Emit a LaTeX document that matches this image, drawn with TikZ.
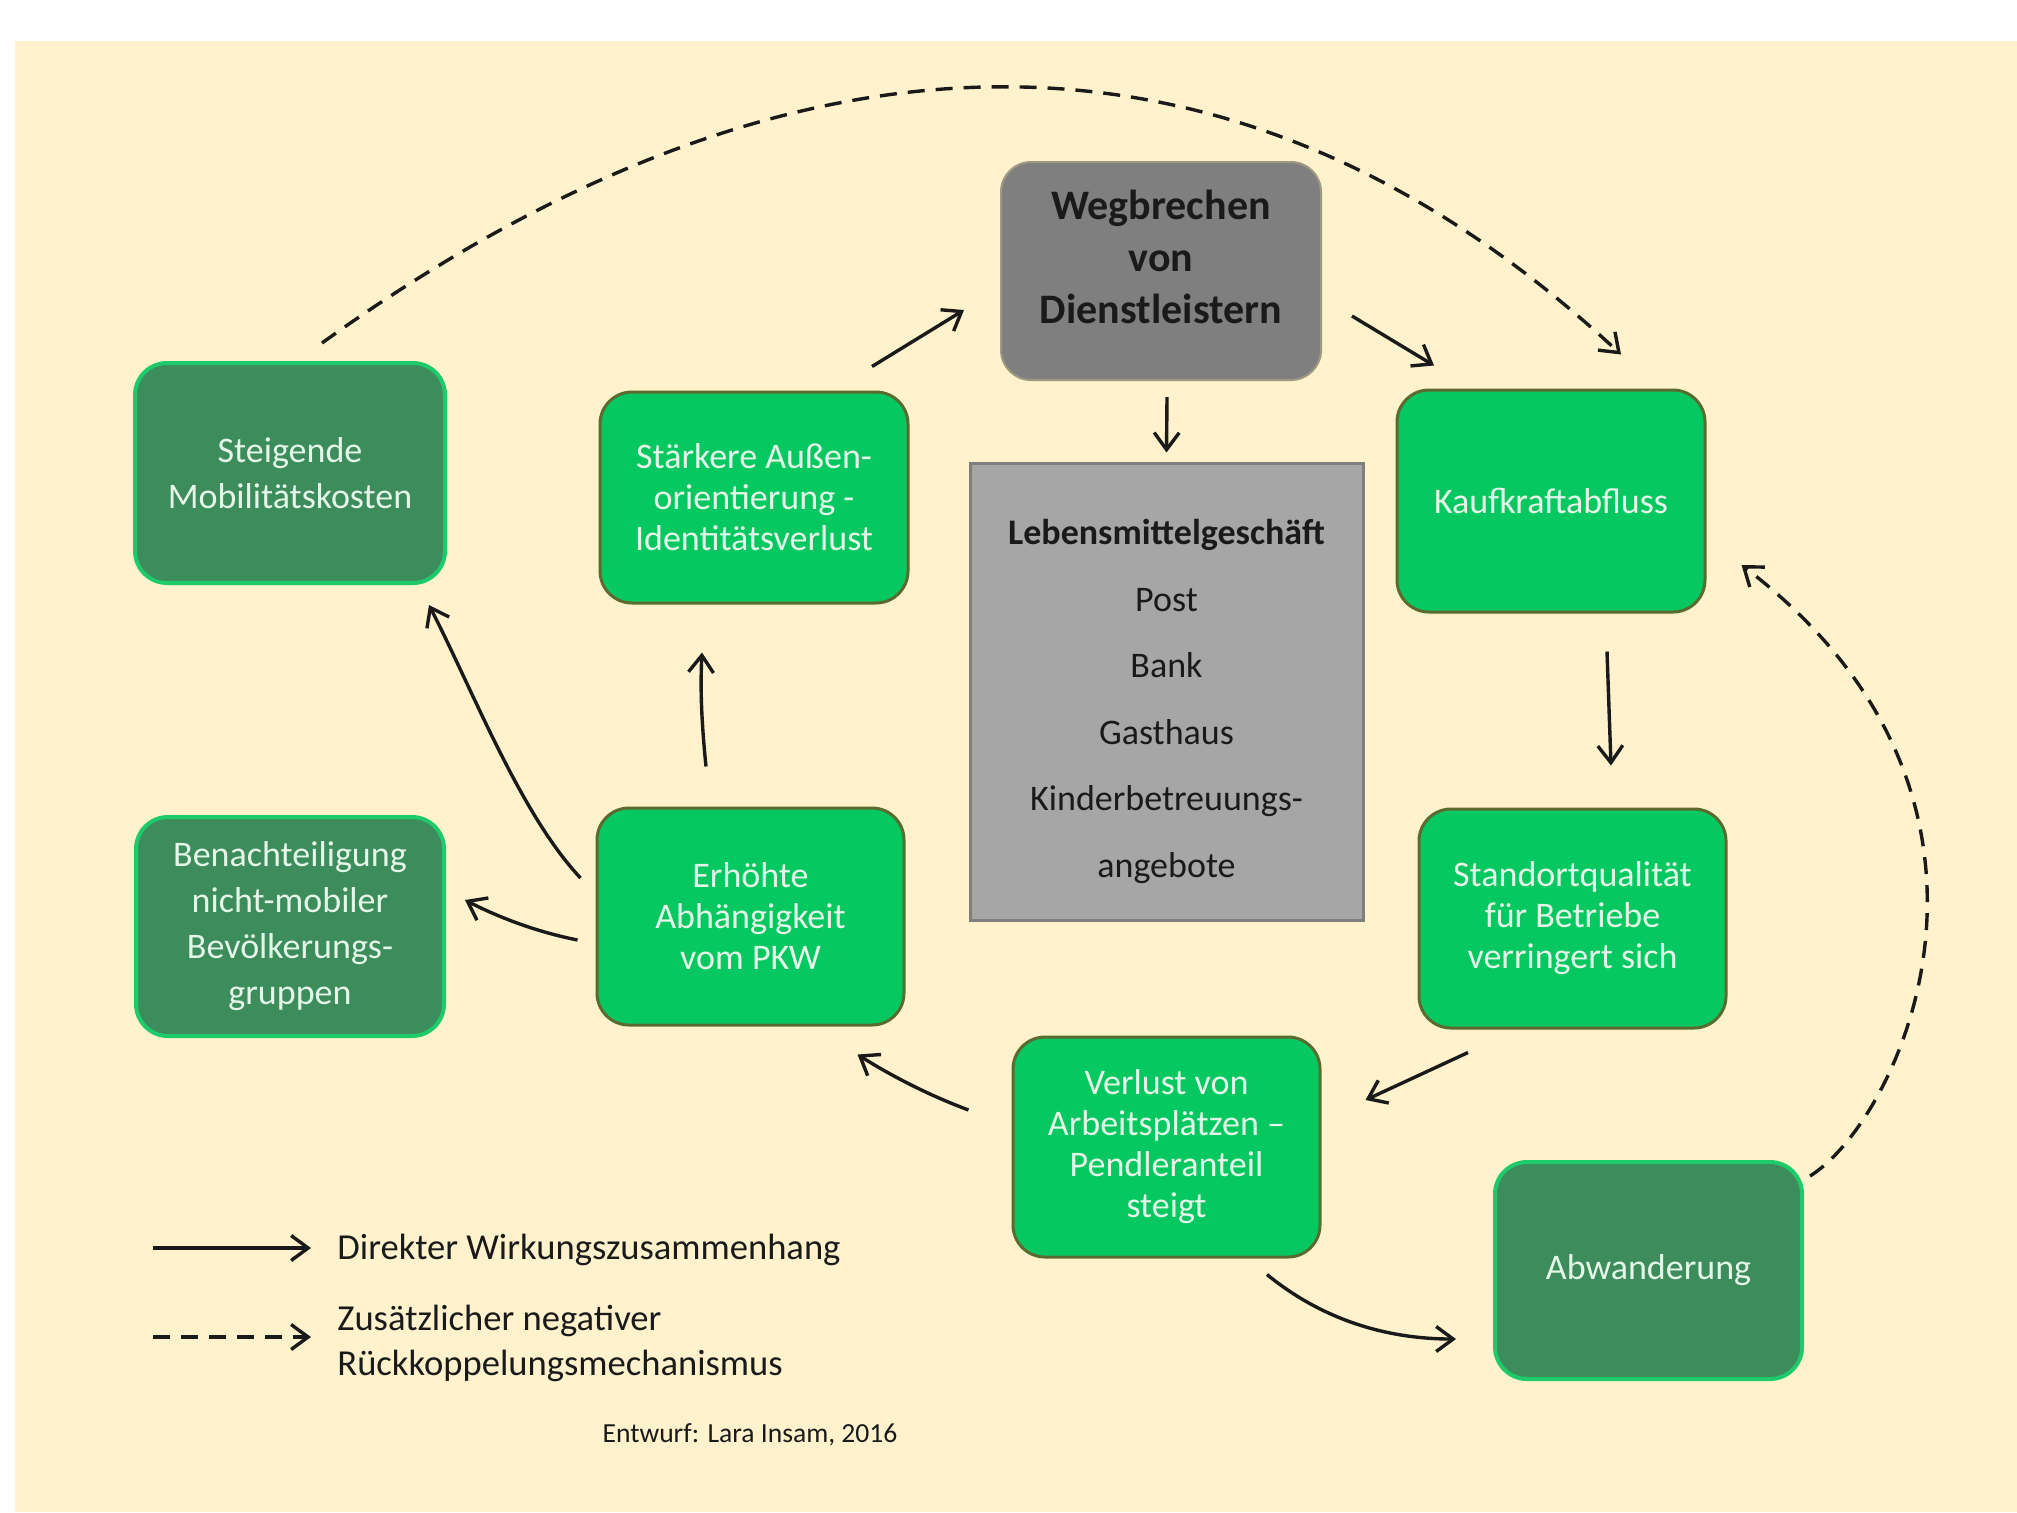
\documentclass[tikz,border=0pt]{standalone}
\usepackage{fontspec}
\setmainfont{Carlito}
\usetikzlibrary{arrows.meta,calc}
\definecolor{bg}{HTML}{FFF2CC}
\definecolor{lgfill}{HTML}{05C861}
\definecolor{lgborder}{HTML}{5A6B2F}
\definecolor{dgfill}{HTML}{3C8C5C}
\definecolor{dgborder}{HTML}{1DCB6A}
\definecolor{boxtext}{HTML}{E4F6E8}
\definecolor{wegfill}{HTML}{7F7F7F}
\definecolor{wegborder}{HTML}{9E9A82}
\definecolor{centfill}{HTML}{A6A6A6}
\definecolor{centborder}{HTML}{7F7F7F}
\definecolor{ink}{HTML}{1A1A1A}
\begin{document}
\begin{tikzpicture}[x=0.5pt,y=-0.5pt,
  lgbox/.style={draw=lgborder, line width=1.5pt, fill=lgfill, rounded corners=16pt,
    text=boxtext, align=center, inner sep=0pt, font=\fontsize{18}{20.5}\selectfont},
  dgbox/.style={draw=dgborder, line width=2pt, fill=dgfill, rounded corners=16pt,
    text=boxtext, align=center, inner sep=0pt, font=\fontsize{18}{23}\selectfont},
  wegbox/.style={draw=wegborder, line width=1pt, fill=wegfill, rounded corners=15pt, inner sep=0pt},
  wegtext/.style={text=ink, align=center, inner sep=0pt, font=\bfseries\fontsize{21}{26}\selectfont},
  centbox/.style={draw=centborder, line width=1.5pt, fill=centfill, inner sep=0pt},
  centtext/.style={text=ink, align=center, inner sep=0pt, font=\fontsize{18}{33.3}\selectfont},
  arr/.style={draw=ink, line width=1.7pt, -{Straight Barb[length=8.5pt,width=12.5pt]}},
  darr/.style={arr, dash pattern=on 8.5pt off 5.5pt},
  legtext/.style={text=ink, anchor=west, align=left, inner sep=0pt, font=\fontsize{18.3}{22.5}\selectfont}
]
\useasboundingbox (0,0) rectangle (2017,1512);
\fill[white] (0,0) rectangle (2017,1512);
\fill[bg] (15,41) rectangle (2017,1512);

% boxes
\node[dgbox, minimum width=155pt, minimum height=110pt] (stei) at (290,473) {Steigende\\Mobilitätskosten};
\node[lgbox, minimum width=154pt, minimum height=105.5pt] (staerk) at (754,497.5) {Stärkere Außen-\\orientierung -\\Identitätsverlust};
\node[wegbox, minimum width=160pt, minimum height=109pt] (weg) at (1161,271) {};
\node[wegtext] (wegt) at ($(weg.center)+(0,-14)$) {Wegbrechen\\von\\Dienstleistern};
\node[centbox, minimum width=196.5pt, minimum height=228.5pt] (cent) at (1166.5,691.5) {};
\node[centtext] (centt) at ($(cent.center)+(0,10)$)
  {\textbf{Lebensmittelgeschäft}\\Post\\Bank\\Gasthaus\\Kinderbetreuungs-\\angebote};
\node[lgbox, minimum width=154pt, minimum height=111pt] (kauf) at (1551,501) {Kaufkraftabfluss};
\node[dgbox, minimum width=154pt, minimum height=109.5pt] (ben) at (290,926.5) {Benachteiligung\\nicht-mobiler\\Bevölkerungs-\\gruppen};
\node[lgbox, minimum width=153.5pt, minimum height=108.5pt] (erh) at (750.5,916.5) {Erhöhte\\Abhängigkeit\\vom PKW};
\node[lgbox, minimum width=153.5pt, minimum height=109.5pt] (stand) at (1572.5,918.5) {Standortqualität\\für Betriebe\\verringert sich};
\node[lgbox, minimum width=153.5pt, minimum height=110pt] (verl) at (1166.5,1147) {Verlust von\\Arbeitsplätzen –\\Pendleranteil\\steigt};
\node[dgbox, minimum width=153.5pt, minimum height=108.5pt] (abw) at (1648.5,1270.5) {Abwanderung};

% direct arrows
\draw[arr] ($(staerk.north)+(118,-24)$) -- ($(weg.west)+(-36,39)$);
\draw[arr] ($(weg.east)+(30,45)$) -- ($(kauf.north)+(-117,-23)$);
\draw[arr] ($(weg.south)+(6,16)$) -- ($(cent.north)+(0,-9)$);
\draw[arr] ($(kauf.south)+(56,38)$) -- ($(stand.north)+(38.5,-42)$);
\draw[arr] ($(stand.south)+(-104.5,23)$) -- ($(verl.east)+(44,-47)$);
\draw[arr] ($(verl.west)+(-43,-37)$) .. controls +(-40,-15) and +(35,22) .. ($(erh.south east)+(-48,28)$);
\draw[arr] ($(erh.north)+(-44.5,-40)$) .. controls +(-4,-40) and +(-2,40) .. ($(staerk.south)+(-52,48)$);
\draw[arr] ($(erh.west)+(-15,-38.5)$) .. controls +(-60,-64) and +(45,88) .. ($(stei.south east)+(-18,20)$);
\draw[arr] ($(erh.west)+(-18,23.5)$) .. controls +(-40,-8) and +(35,18) .. ($(ben.east)+(19,-26.5)$);
\draw[arr] ($(verl.south)+(100.5,16)$) .. controls +(55,45) and +(-70,0) .. ($(abw.west)+(-37,68.5)$);

% feedback arrows
\draw[darr] ($(stei.north)+(32,-18)$) .. controls (800,0) and (1240,0) .. ($(kauf.north)+(70,-34)$);
\draw[darr] ($(abw.north east)+(6,16)$) .. controls (1900,1120) and (2050,800) .. ($(kauf.east)+(35,64)$);

% legend
\coordinate (l1a) at (153,1248);
\coordinate (l1b) at (311,1248);
\coordinate (l2a) at (153,1337);
\coordinate (l2b) at (311,1337);
\draw[arr] (l1a) -- (l1b);
\draw[darr] (l2a) -- (l2b);
\node[legtext] (l1t) at (337,1250) {Direkter Wirkungszusammenhang};
\node[legtext] (l2t) at (337,1343) {Zusätzlicher negativer\\Rückkoppelungsmechanismus};
\node[text=ink, inner sep=0pt, font=\fontsize{13.8}{16}\selectfont] (credit) at (750,1435) {Entwurf: Lara Insam, 2016};
\end{tikzpicture}
\end{document}
